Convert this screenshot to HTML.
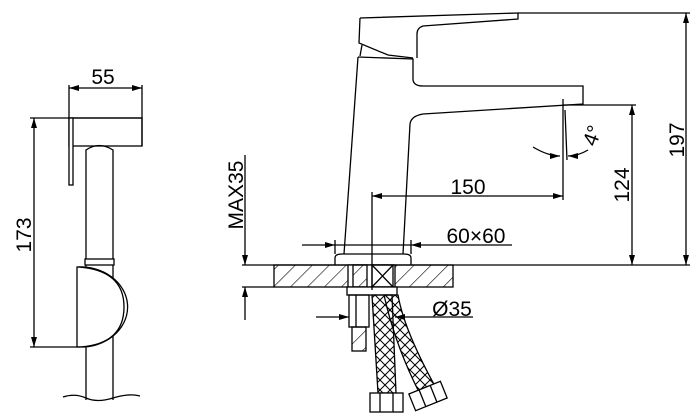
<!DOCTYPE html>
<html><head><meta charset="utf-8"><style>
html,body{margin:0;padding:0;background:#fff}
svg{display:block}
text{font-family:"Liberation Sans",Arial,sans-serif;font-size:21px;fill:#000}
</style></head><body>
<svg width="700" height="418" viewBox="0 0 700 418" xmlns="http://www.w3.org/2000/svg">
<defs>
<pattern id="hatch" patternUnits="userSpaceOnUse" width="12" height="12" patternTransform="rotate(45)">
<line x1="0" y1="0" x2="0" y2="12" stroke="#000" stroke-width="1.2"/>
</pattern>
<pattern id="braid" patternUnits="userSpaceOnUse" width="10" height="10">
<path d="M0 0L10 10M10 0L0 10" stroke="#000" stroke-width="1"/>
</pattern>
<marker id="a" viewBox="0 0 10 6" refX="10" refY="3" markerWidth="12" markerHeight="6" markerUnits="userSpaceOnUse" orient="auto-start-reverse">
<path d="M0 0L10 3L0 6z" fill="#000"/>
</marker>
</defs>
<g fill="none" stroke="#000" stroke-width="1.3">
<line x1="69" y1="85" x2="69" y2="118"/>
<line x1="142" y1="85" x2="142" y2="146"/>
<line x1="69" y1="88" x2="142" y2="88" marker-start="url(#a)" marker-end="url(#a)"/>
<line x1="30" y1="118" x2="142" y2="118"/>
<rect x="69" y="118" width="73" height="28"/>
<rect x="69" y="118" width="4" height="67" fill="#fff"/>
<path d="M86 400V150Q99 141 113 150V400"/>
<rect x="85" y="259" width="29" height="6" fill="#fff"/>
<path d="M77 267V347H84A47 40 0 0 0 77 267Z" fill="#fff"/>
<path d="M78 267Q124 270 124 307Q124 344 80 347"/>
<line x1="34" y1="118" x2="34" y2="347" marker-start="url(#a)" marker-end="url(#a)"/>
<line x1="30" y1="347" x2="80" y2="347"/>
<path d="M63 397Q75 393 86 398T113 398T140 396"/>

<line x1="518" y1="13" x2="690" y2="13"/>
<line x1="686" y1="13" x2="686" y2="265" marker-start="url(#a)" marker-end="url(#a)"/>
<line x1="242" y1="265" x2="690" y2="265"/>
<path d="M360 18L518 13V19L423 26Q417 28 417 34V58"/>
<path d="M360 18L359 43L388 55L413 58"/>
<path d="M362 45L360 56"/>
<path d="M358 57L344 254"/>
<path d="M358 57L413 59V80Q414 86 423 86H583V104L423 114Q411 116 410 124L403 254"/>
<path d="M335 265V258Q335 254 342 254H404Q411 254 411 258V265"/>
<rect x="274" y="265" width="179" height="22" fill="url(#hatch)"/>
<rect x="348" y="265" width="47" height="22" fill="#fff"/>
<rect x="353" y="265" width="14" height="22" fill="url(#hatch)"/>
<rect x="372" y="265" width="21" height="22"/>
<path d="M372 265L393 287M393 265L372 287"/>
<rect x="347" y="287" width="50" height="8" fill="#fff"/>
<rect x="349" y="295" width="20" height="32"/>
<line x1="356" y1="295" x2="356" y2="327"/>
<rect x="352" y="327" width="14" height="24" fill="url(#hatch)"/>
<path d="M372 295L392 295L396 393L378 393Z" fill="url(#braid)"/>
<path d="M384 295L398 295Q404 330 436 388L420 394Q395 345 384 295Z" fill="url(#braid)"/>
<rect x="370" y="393" width="33" height="19" fill="#fff"/>
<line x1="380" y1="393" x2="380" y2="412"/><line x1="393" y1="393" x2="393" y2="412"/>
<g transform="rotate(-22 428 396)">
<rect x="411" y="387" width="34" height="18" fill="#fff"/>
<line x1="422" y1="387" x2="422" y2="405"/><line x1="434" y1="387" x2="434" y2="405"/>
</g>
<line x1="245" y1="155" x2="245" y2="265" marker-end="url(#a)"/>
<line x1="245" y1="320" x2="245" y2="287" marker-end="url(#a)"/>
<line x1="242" y1="287" x2="274" y2="287"/>
<line x1="335" y1="240" x2="335" y2="254"/>
<line x1="411" y1="240" x2="411" y2="254"/>
<line x1="302" y1="245" x2="335" y2="245" marker-end="url(#a)"/>
<line x1="512" y1="245" x2="411" y2="245" marker-end="url(#a)"/>
<line x1="335" y1="245" x2="411" y2="245"/>
<line x1="372" y1="192" x2="372" y2="290"/>
<line x1="563" y1="99" x2="563" y2="200"/>
<line x1="372" y1="196" x2="563" y2="196" marker-start="url(#a)" marker-end="url(#a)"/>
<line x1="565" y1="110" x2="567" y2="160"/>
<path d="M533 147Q548 156 560 156" marker-end="url(#a)"/>
<path d="M588 150Q578 156 568 156" marker-end="url(#a)"/>
<line x1="563" y1="105" x2="636" y2="105"/>
<line x1="632" y1="105" x2="632" y2="265" marker-start="url(#a)" marker-end="url(#a)"/>
<line x1="316" y1="317" x2="349" y2="317" marker-end="url(#a)"/>
<line x1="473" y1="317" x2="395" y2="317" marker-end="url(#a)"/>
</g>
<text x="103" y="84" text-anchor="middle">55</text>
<text transform="translate(31 235) rotate(-90)" text-anchor="middle">173</text>
<text transform="translate(243 195) rotate(-90)" text-anchor="middle">MAX35</text>
<text x="468" y="194" text-anchor="middle">150</text>
<text x="476" y="243" text-anchor="middle">60×60</text>
<text x="452" y="316" text-anchor="middle">Ø35</text>
<text transform="translate(629 185) rotate(-90)" text-anchor="middle">124</text>
<text transform="translate(684 140) rotate(-90)" text-anchor="middle">197</text>
<text transform="translate(599 138) rotate(-70)" text-anchor="middle">4°</text>
</svg>
</body></html>
